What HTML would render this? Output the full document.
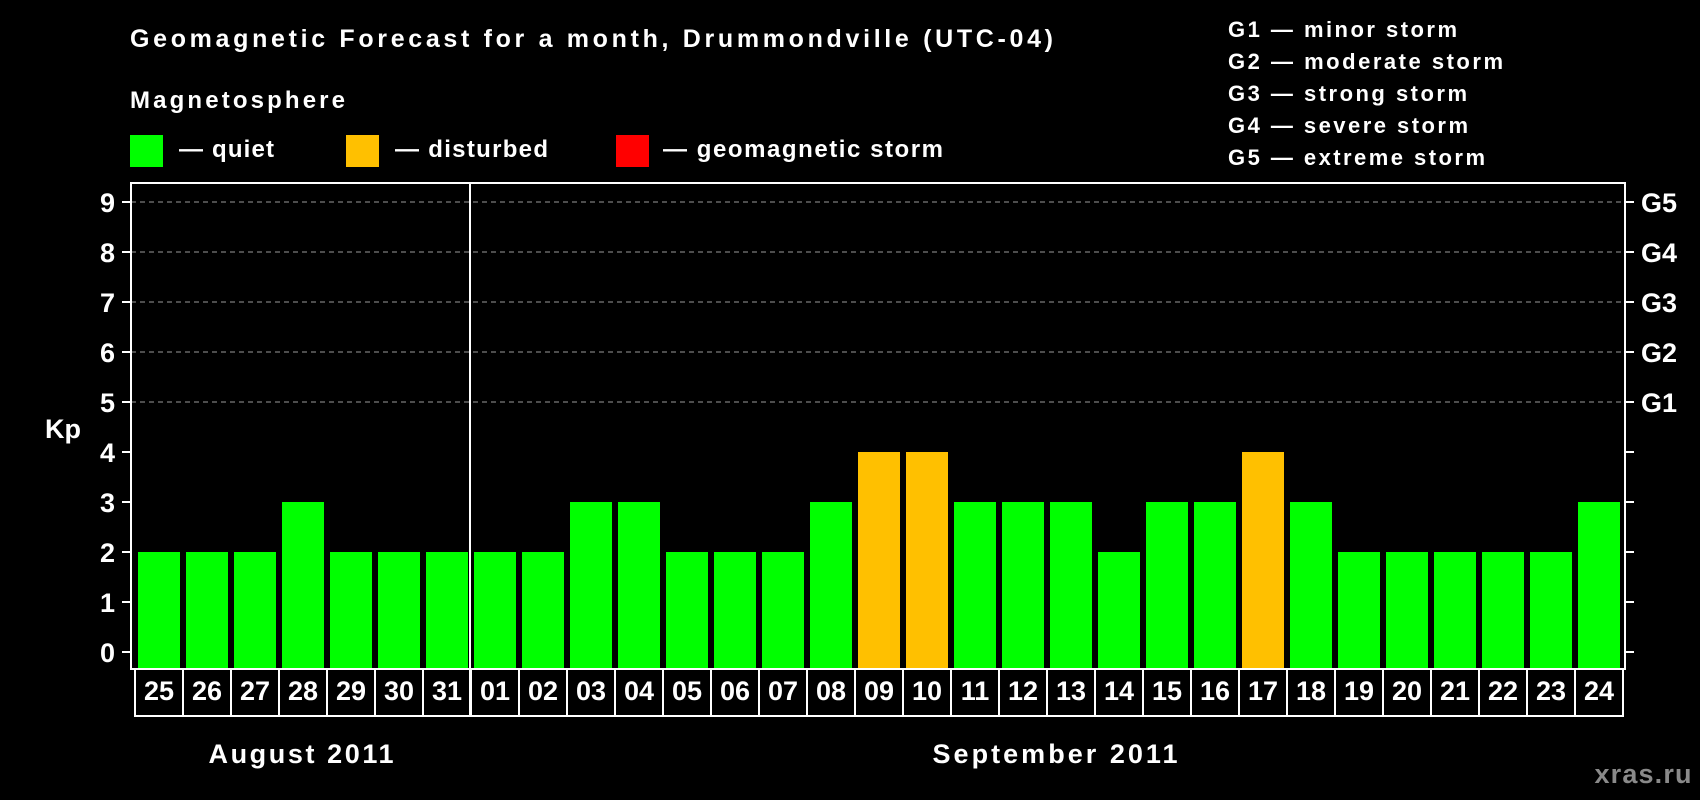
<!DOCTYPE html>
<html><head><meta charset="utf-8"><style>
html,body{margin:0;padding:0;background:#000;}
svg{display:block;font-family:"Liberation Sans",Arial,sans-serif;font-weight:bold;}
</style></head><body>
<svg id="chart" width="1700" height="800" viewBox="0 0 1700 800">
<rect x="0" y="0" width="1700" height="800" fill="#000"/>
<text x="130" y="47" fill="#fff" font-size="25" textLength="923">Geomagnetic Forecast for a month, Drummondville (UTC-04)</text>
<text x="130" y="108" fill="#fff" font-size="24" textLength="215">Magnetosphere</text>
<g>
<rect x="130" y="135" width="33" height="32" fill="#00ff00"/>
<text x="179" y="157" fill="#fff" font-size="24" textLength="95">— quiet</text>
<rect x="346" y="135" width="33" height="32" fill="#ffc000"/>
<text x="395" y="157" fill="#fff" font-size="24" textLength="153">— disturbed</text>
<rect x="616" y="135" width="33" height="32" fill="#ff0000"/>
<text x="663" y="157" fill="#fff" font-size="24" textLength="280">— geomagnetic storm</text>
</g>
<g fill="#fff" font-size="22">
<text x="1228" y="37" textLength="229">G1 — minor storm</text>
<text x="1228" y="69" textLength="275">G2 — moderate storm</text>
<text x="1228" y="101" textLength="239">G3 — strong storm</text>
<text x="1228" y="133" textLength="240">G4 — severe storm</text>
<text x="1228" y="165" textLength="257">G5 — extreme storm</text>
</g>
<g id="grid"></g>
<g id="bars"></g>
<g id="axes"></g>
<text x="63" y="438" fill="#fff" font-size="27" text-anchor="middle">Kp</text>
<text x="301" y="763" fill="#fff" font-size="27" text-anchor="middle" textLength="185">August 2011</text>
<text x="1055" y="763" fill="#fff" font-size="27" text-anchor="middle" textLength="245">September 2011</text>
<text x="1643" y="783" fill="#8a8a8a" font-size="27" text-anchor="middle" textLength="97">xras.ru</text>
</svg>
<script>
const days = ["25","26","27","28","29","30","31","01","02","03","04","05","06","07","08","09","10","11","12","13","14","15","16","17","18","19","20","21","22","23","24"];
const kpValues = [2,2,2,3,2,2,2,2,2,3,3,2,2,2,3,4,4,3,3,3,2,3,3,4,3,2,2,2,2,2,3];
const yTicks = [0,1,2,3,4,5,6,7,8,9];
const gLabels = ["G1","G2","G3","G4","G5"];
const gLevels = [5,6,7,8,9];
const monthBreakIndex = 7;

const NS = "http://www.w3.org/2000/svg";
const plotL = 131, plotR = 1625, plotT = 183, plotB = 669;
const slot0 = 135, slotW = 48;
function yScale(v){ return 652 - v * 50; }
function xScale(i){ return slot0 + i * slotW; }
function mk(tag, attrs, parent){
  const el = document.createElementNS(NS, tag);
  for (const k in attrs) el.setAttribute(k, attrs[k]);
  parent.appendChild(el);
  return el;
}
function color(v){ return v >= 5 ? "#ff0000" : (v >= 4 ? "#ffc000" : "#00ff00"); }

const grid = document.getElementById("grid");
gLevels.forEach((lv) => {
  const ln = mk("line", {x1: plotL, x2: plotR, y1: yScale(lv), y2: yScale(lv), stroke: "#9a9a9a", "stroke-width": 1, "stroke-dasharray": "5,4"}, grid);
  
  
});

const bars = document.getElementById("bars");
kpValues.forEach((v, i) => {
  const r = mk("rect", {x: xScale(i) + 3, y: yScale(v), width: 42, height: plotB - 1 - yScale(v), fill: color(v)}, bars);
  
  
});

const axes = document.getElementById("axes");
const frame = mk("rect", {x: plotL, y: plotT, width: plotR - plotL, height: plotB - plotT, fill: "none", stroke: "#fff", "stroke-width": 2}, axes);



yTicks.forEach((t) => {
  const y = yScale(t);
  const tk = mk("line", {x1: 122, x2: plotL, y1: y, y2: y, stroke: "#fff", "stroke-width": 2}, axes);
  
  
  const tr = mk("line", {x1: plotR, x2: 1634, y1: y, y2: y, stroke: "#fff", "stroke-width": 2}, axes);
  
  
  const tl = mk("text", {x: 115, y: y + 10, fill: "#fff", "font-size": 27, "text-anchor": "end"}, axes);
  tl.textContent = String(t);
  
  
});
gLabels.forEach((g, i) => {
  const t = mk("text", {x: 1641, y: yScale(gLevels[i]) + 10, fill: "#fff", "font-size": 27}, axes);
  t.textContent = g;
  
  
});

days.forEach((d, i) => {
  const c = mk("rect", {x: xScale(i), y: plotB, width: slotW, height: 47, fill: "#000", stroke: "#fff", "stroke-width": 2}, axes);
  
  
  const t = mk("text", {x: xScale(i) + slotW / 2, y: 700, fill: "#fff", "font-size": 27, "text-anchor": "middle"}, axes);
  t.textContent = d;
  
  
});

const divX = xScale(monthBreakIndex) - 1;
const div = mk("line", {x1: divX, x2: divX, y1: plotT, y2: plotB + 47, stroke: "#fff", "stroke-width": 2}, axes);


</script>
</body></html>
